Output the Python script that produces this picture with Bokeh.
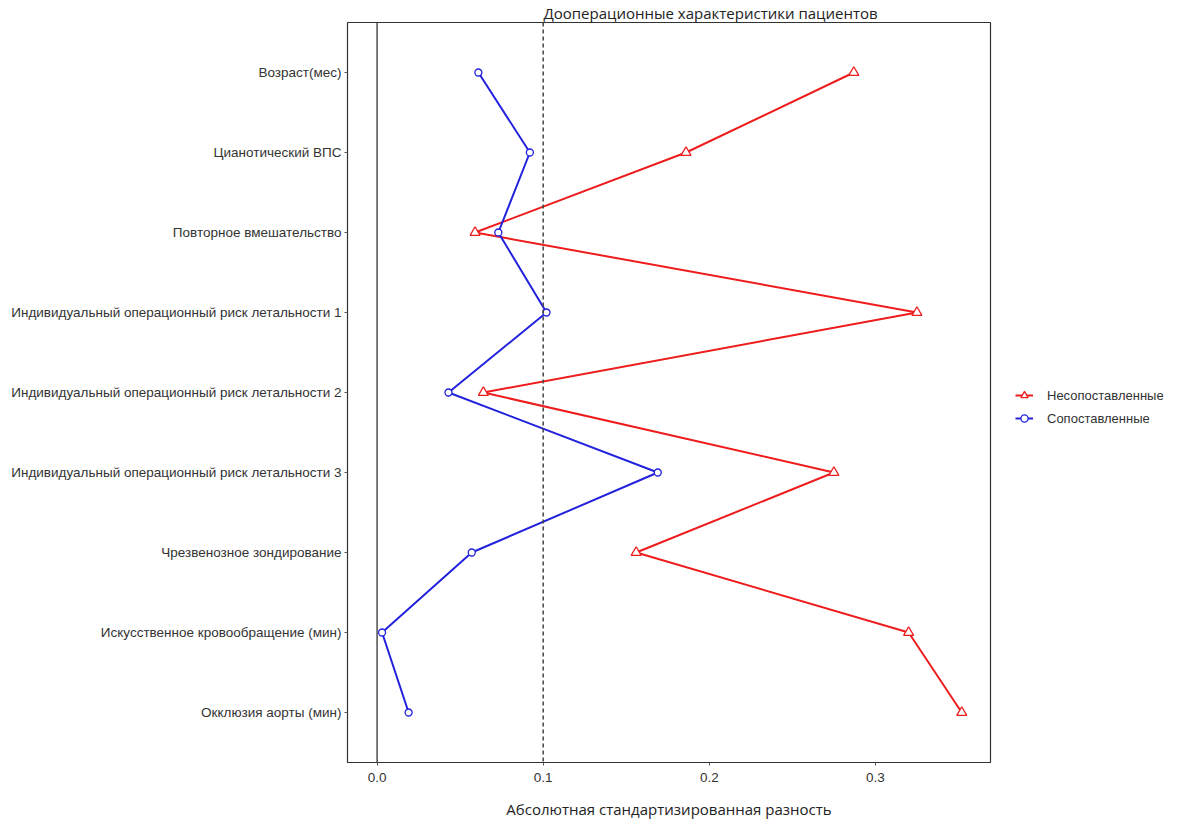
from bokeh.plotting import figure
from bokeh.layouts import row
from bokeh.models import Range1d, FixedTicker, Span, Legend, LegendItem, Title
from bokeh.embed import file_html
from bokeh.resources import INLINE

categories = [
    "Возраст(мес)",
    "Цианотический ВПС",
    "Повторное вмешательство",
    "Индивидуальный операционный риск летальности 1",
    "Индивидуальный операционный риск летальности 2",
    "Индивидуальный операционный риск летальности 3",
    "Чрезвенозное зондирование",
    "Искусственное кровообращение (мин)",
    "Окклюзия аорты (мин)",
]
unmatched = [0.287, 0.186, 0.059, 0.325, 0.064, 0.275, 0.156, 0.320, 0.352]
matched = [0.061, 0.092, 0.073, 0.102, 0.043, 0.169, 0.057, 0.003, 0.019]
series_names = ["Несопоставленные", "Сопоставленные"]
x_ticks = [0.0, 0.1, 0.2, 0.3]
x_tick_labels = ["0.0", "0.1", "0.2", "0.3"]
threshold = 0.1
title_text = "Дооперационные характеристики пациентов"
x_label = "Абсолютная стандартизированная разность"

n = len(categories)
ypos = [n - 1 - i for i in range(n)]

FONT = "Liberation Sans"
RED = "#ee1c1c"
BLUE = "#2222dd"

p = figure(frame_width=643, frame_height=740, output_backend="svg", toolbar_location=None,
           x_range=Range1d(-0.0178, 0.3693), y_range=Range1d(-0.625, n - 1 + 0.625),
           min_border_left=347, min_border_right=10, min_border_top=22, min_border_bottom=45)

p.grid.visible = False
p.outline_line_color = "#333333"
p.outline_line_width = 1.2
p.background_fill_color = "white"
p.border_fill_color = "white"

p.xaxis.ticker = FixedTicker(ticks=x_ticks)
p.xaxis.major_label_overrides = {t: l for t, l in zip(x_ticks, x_tick_labels)}
p.yaxis.ticker = FixedTicker(ticks=ypos)
p.yaxis.major_label_overrides = {y: c for y, c in zip(ypos, categories)}
for ax in (p.xaxis, p.yaxis):
    ax.axis_line_color = None
    ax.minor_tick_line_color = None
    ax.major_tick_in = 0
    ax.major_tick_out = 3
    ax.major_tick_line_color = "#555555"
    ax.major_label_text_font = FONT
    ax.major_label_text_font_size = "13.5px"
    ax.major_label_text_color = "#333333"
p.yaxis.major_label_standoff = 3
p.xaxis.major_label_standoff = 7
p.xaxis.axis_label = x_label
p.xaxis.axis_label_text_font = "Open Sans"
p.xaxis.axis_label_text_font_style = "normal"
p.xaxis.axis_label_text_font_size = "15px"
p.xaxis.axis_label_text_color = "#222222"
p.xaxis.axis_label_standoff = 14

p.add_layout(Span(location=0, dimension="height", line_color="#222222", line_width=1.2))
p.add_layout(Span(location=threshold, dimension="height", line_color="#444444",
                  line_width=1.5, line_dash="4 3"))

r1l = p.line(unmatched, ypos, line_color=RED, line_width=2)
r1m = p.scatter(unmatched, ypos, marker="triangle", size=10, line_color=RED,
                fill_color="white", line_width=1.3)
r2l = p.line(matched, ypos, line_color=BLUE, line_width=2)
r2m = p.scatter(matched, ypos, marker="circle", size=7, line_color=BLUE,
                fill_color="white", line_width=1.3)

p.add_layout(Title(text=title_text, align="left", offset=196, standoff=0,
                   text_font="Open Sans", text_font_size="15px", text_font_style="normal",
                   text_color="#222222"), "above")

# legend panel: separate figure to the right; its ranges keep the data out of view
lg = figure(width=181, frame_height=740, output_backend="svg", toolbar_location=None,
            x_range=Range1d(10, 11), y_range=Range1d(100, 101),
            min_border_left=0, min_border_right=0, min_border_top=22, min_border_bottom=45,
            x_axis_type=None, y_axis_type=None)
lg.grid.visible = False
lg.outline_line_color = None
lg.border_fill_color = "white"
lg.background_fill_color = "white"
l1l = lg.line(unmatched, ypos, line_color=RED, line_width=2)
l1m = lg.scatter(unmatched, ypos, marker="triangle", size=9, line_color=RED,
                 fill_color="white", line_width=1.3)
l2l = lg.line(matched, ypos, line_color=BLUE, line_width=2)
l2m = lg.scatter(matched, ypos, marker="circle", size=7, line_color=BLUE,
                 fill_color="white", line_width=1.3)
legend = Legend(items=[LegendItem(label=series_names[0], renderers=[l1l, l1m]),
                       LegendItem(label=series_names[1], renderers=[l2l, l2m])],
                location=(15, 334), border_line_color=None,
                background_fill_alpha=0, label_text_font=FONT,
                label_text_font_size="13px", label_text_color="#333333",
                glyph_width=18, label_standoff=14, spacing=3, margin=0, padding=0)
lg.add_layout(legend)

layout = row(p, lg)
open("out.html", "w").write(file_html(layout, INLINE))
